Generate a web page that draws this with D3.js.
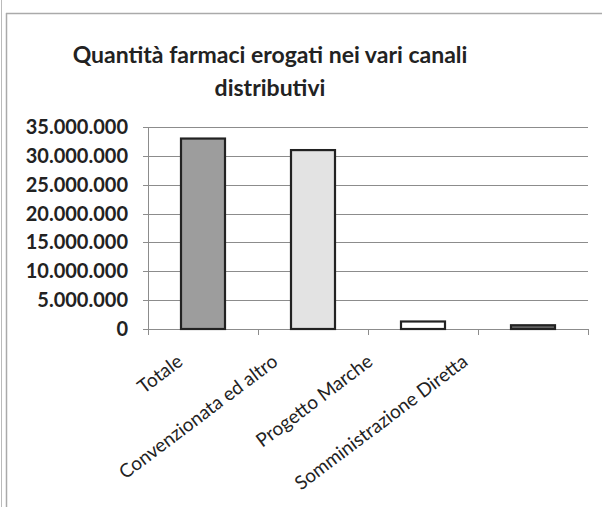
<html>
<head>
<meta charset="utf-8">
<style>
  body { margin: 0; background: #fff; }
  text { font-family: Lato, "Open Sans", sans-serif; fill: #222; }
</style>
</head>
<body>
<svg id="chart"></svg>
<script src="https://d3js.org/d3.v7.min.js"></script>
<script>
// values
var categories = ["Totale", "Convenzionata ed altro", "Progetto Marche", "Somministrazione Diretta"]
var quantities = [33000000, 31000000, 1300000, 650000]
var barFills = ["#9d9d9d", "#e3e3e3", "#ffffff", "#6a6a6a"]
var yTicks = [0, 5000000, 10000000, 15000000, 20000000, 25000000, 30000000, 35000000]
var titleLines = ["Quantità farmaci erogati nei vari canali", "distributivi"]

var width = 602, height = 507
var svg = d3.select('#chart').attr('width', width).attr('height', height)

// frame of the scanned chart
svg.append('line').attr('x1', 1.5).attr('x2', 1.5).attr('y1', 0).attr('y2', height)
    .attr('stroke', '#bbb')
svg.append('line').attr('x1', 6.5).attr('x2', 6.5).attr('y1', 13).attr('y2', height)
    .attr('stroke', '#aaa').attr('stroke-width', 1.5)
svg.append('line').attr('x1', 6).attr('x2', width).attr('y1', 13.5).attr('y2', 13.5)
    .attr('stroke', '#aaa').attr('stroke-width', 1.5)

// title
svg.selectAll('.title').data(titleLines).enter().append('text')
    .attr('class', 'title')
    .attr('x', 270)
    .attr('y', function(d, i) { return 63 + i * 33 })
    .attr('text-anchor', 'middle')
    .style('font-size', '23px')
    .style('font-weight', 'bold')
    .text(function(d) { return d })

var plotLeft = 148, plotRight = 588, plotTop = 127, plotBottom = 329

var x = d3.scaleBand().domain(categories).range([plotLeft, plotRight]).paddingInner(0.6).paddingOuter(0.3)
var xBand = d3.scaleBand().domain(categories).range([plotLeft, plotRight])
var y = d3.scaleLinear().domain([0, 35000000]).range([plotBottom, plotTop])

var fmt = d3.formatLocale({ decimal: ',', thousands: '.', grouping: [3], currency: ['€', ''] }).format(',')

// gridlines
svg.append('g').selectAll('line').data(yTicks).enter().append('line')
    .attr('x1', plotLeft - 5).attr('x2', plotRight)
    .attr('y1', function(d) { return Math.round(y(d)) + 0.5 })
    .attr('y2', function(d) { return Math.round(y(d)) + 0.5 })
    .attr('stroke', '#8c8c8c')

// y axis line
svg.append('line').attr('x1', plotLeft + 0.5).attr('x2', plotLeft + 0.5)
    .attr('y1', plotTop).attr('y2', plotBottom)
    .attr('stroke', '#8c8c8c')

// x ticks at band edges
var edges = categories.map(function(c) { return xBand(c) }).concat([plotRight])
svg.append('g').selectAll('line').data(edges).enter().append('line')
    .attr('x1', function(d) { return Math.round(d) + 0.5 })
    .attr('x2', function(d) { return Math.round(d) + 0.5 })
    .attr('y1', plotBottom).attr('y2', plotBottom + 6)
    .attr('stroke', '#8c8c8c')

// y labels
svg.append('g').selectAll('text').data(yTicks).enter().append('text')
    .attr('x', 128)
    .attr('y', function(d) { return y(d) + 7 })
    .attr('text-anchor', 'end')
    .style('font-size', '20px')
    .style('font-weight', 'bold')
    .text(function(d) { return fmt(d) })

// bars
svg.append('g').selectAll('rect').data(quantities).enter().append('rect')
    .attr('x', function(d, i) { return x(categories[i]) })
    .attr('width', x.bandwidth())
    .attr('y', function(d) { return y(d) })
    .attr('height', function(d) { return plotBottom - y(d) })
    .style('fill', function(d, i) { return barFills[i] })
    .attr('stroke', '#222')
    .attr('stroke-width', 2.2)

// category labels, rotated
var labelX = d3.scalePoint().domain(categories).range([184, 469])
svg.append('g').selectAll('text').data(categories).enter().append('text')
    .attr('transform', function(d) { return 'translate(' + labelX(d) + ',' + 364 + ') rotate(-37)' })
    .attr('text-anchor', 'end')
    .style('font-size', '19px')
    .text(function(d) { return d })
</script>
</body>
</html>
